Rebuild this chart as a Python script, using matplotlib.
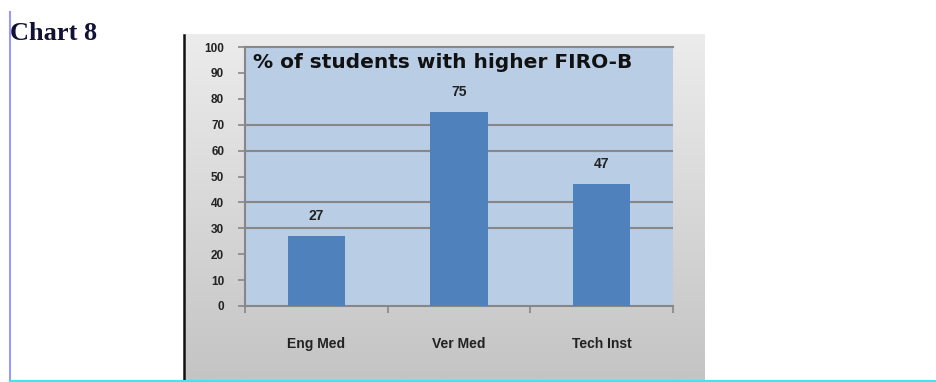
import numpy as np
import matplotlib.pyplot as plt
from matplotlib.lines import Line2D
from matplotlib.colors import LinearSegmentedColormap

categories = ['Eng Med', 'Ver Med', 'Tech Inst']
values = [27, 75, 47]
y_ticks = [0, 10, 20, 30, 40, 50, 60, 70, 80, 90, 100]
grid_levels = [30, 40, 60, 70]
title = '% of students with higher FIRO-B'

W, H = 937, 382
fig = plt.figure(figsize=(W / 100, H / 100), dpi=100)
fig.patch.set_facecolor('white')


def box(x0, y0, x1, y1):
    # pixel box (top-left origin) -> figure fraction rect
    return [x0 / W, 1 - y1 / H, (x1 - x0) / W, (y1 - y0) / H]


# chart area with a grey vertical gradient
bg = fig.add_axes(box(184, 34, 705, 380))
grad = np.linspace(0, 1, 256).reshape(-1, 1)
bg.imshow(grad, aspect='auto', cmap=LinearSegmentedColormap.from_list('g', ['#ececec', '#c4c4c4']),
          extent=[0, 1, 0, 1], origin='upper')
bg.set_axis_off()

# plot area
ax = fig.add_axes(box(245, 47, 673, 306))
ax.set_facecolor('#b9cde5')
x = np.arange(len(categories))
ax.bar(x, values, width=0.4, color='#4f81bd', zorder=3)
ax.set_xlim(-0.5, len(categories) - 0.5)
ax.set_ylim(0, 100)

for lv in grid_levels:
    ax.axhline(lv, color='#878787', lw=1.5, zorder=2)

for xi, v in zip(x, values):
    ax.text(xi, v + 5, str(v), ha='center', va='bottom', fontsize=10,
            fontweight='bold', family='Liberation Sans', color='#222222')

ax.text(0.018, 0.975, title, transform=ax.transAxes, ha='left', va='top',
        fontsize=14.5, fontweight='bold', family='DejaVu Sans', color='#111111')

ax.set_yticks(y_ticks)
ax.set_yticklabels([str(t) for t in y_ticks], fontsize=8.5, fontweight='bold',
                   family='Liberation Sans', color='#222222')
ax.set_xticks(x)
ax.set_xticklabels(categories, fontsize=10, fontweight='bold',
                   family='Liberation Sans', color='#222222')
ax.tick_params(axis='y', length=5, width=1.2, color='#878787', pad=10)
ax.tick_params(axis='x', length=0, pad=22)
# tick marks at category borders on x
ax.set_xticks([-0.5, 0.5, 1.5, 2.5], minor=True)
ax.tick_params(axis='x', which='minor', length=5, width=1.2, color='#878787')

for side in ['left', 'bottom', 'top']:
    ax.spines[side].set_color('#878787')
    ax.spines[side].set_linewidth(1.5)
ax.spines['right'].set_visible(False)

fig.text(10 / W, 1 - 34 / H, 'Chart 8', ha='left', va='center', fontsize=19,
         fontweight='bold', family='Liberation Serif', color='#111133')

# page decorations
fig.add_artist(Line2D([184 / W, 184 / W], [0, 1 - 35 / H], color='#111111', lw=1.8))
fig.add_artist(Line2D([10 / W, 10 / W], [0, 1 - 12 / H], color='#9999ff', lw=1.5))
fig.add_artist(Line2D([10 / W, 1], [1.2 / H, 1.2 / H], color='#3ee6ee', lw=2.2))

fig.savefig('out.png', dpi=100)
